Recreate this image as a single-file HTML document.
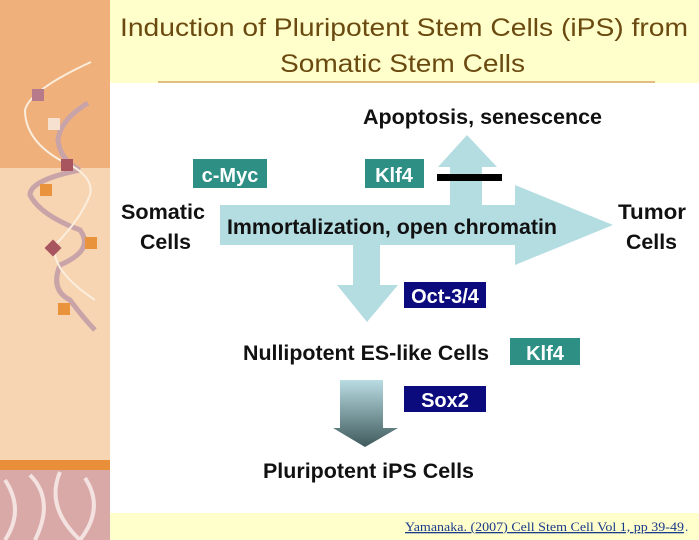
<!DOCTYPE html>
<html><head><style>
html,body{margin:0;padding:0;width:699px;height:540px;overflow:hidden;background:#fff}
</style></head><body>
<svg width="699" height="540" viewBox="0 0 699 540" xmlns="http://www.w3.org/2000/svg" style="display:block">
<defs>
<linearGradient id="g" x1="0" y1="0" x2="0" y2="1">
<stop offset="0" stop-color="#b9dde3"/><stop offset="1" stop-color="#3f5a5c"/></linearGradient>
</defs>
<rect x="110" y="0" width="589" height="83" fill="#ffffcc"/>
<line x1="158" y1="82" x2="655" y2="82" stroke="#d9a86a" stroke-width="1.5"/>
<rect x="110" y="513" width="589" height="27" fill="#ffffcc"/>
<rect x="0" y="0" width="110" height="168" fill="#efb07c"/>
<rect x="0" y="168" width="110" height="292" fill="#f7d4b2"/>
<rect x="0" y="460" width="110" height="10" fill="#e98f3a"/>
<rect x="0" y="470" width="110" height="70" fill="#d9a9a8"/>
<path d="M5 480 q20 30 0 60 M30 475 q25 25 5 65 M60 472 q-15 35 20 68 M85 478 q20 30 -5 62" stroke="#f3e2e0" stroke-width="4" fill="none"/>
<path d="M88 103 Q60 120 58 140 Q60 160 80 170" stroke="#c8a3a8" stroke-width="5" fill="none"/>
<path d="M80 170 Q30 180 30 195 Q40 215 80 230 Q95 250 60 265 Q50 290 70 300 Q85 320 95 330" stroke="#c8a3a8" stroke-width="5" fill="none"/>
<path d="M91 62 Q30 90 25 110 Q25 140 60 160 Q95 175 90 195 Q80 220 55 245 Q50 270 95 300" stroke="#fbeedd" stroke-width="2" fill="none"/>
<rect x="32" y="89" width="12" height="12" fill="#b77a8a"/>
<rect x="48" y="118" width="12" height="12" fill="#f6e0d0"/>
<rect x="61" y="159" width="12" height="12" fill="#a95560"/>
<rect x="40" y="184" width="12" height="12" fill="#e9943d"/>
<rect x="85" y="237" width="12" height="12" fill="#e9943d"/>
<rect x="47" y="242" width="12" height="12" fill="#a95560" transform="rotate(45 53 248)"/>
<rect x="58" y="303" width="12" height="12" fill="#e9943d"/>
<g font-family="Liberation Sans, sans-serif">
<text x="120" y="36" font-size="25" fill="#6b4a10" textLength="568" lengthAdjust="spacingAndGlyphs">Induction of Pluripotent Stem Cells (iPS) from</text>
<text x="280" y="72" font-size="25" fill="#6b4a10" textLength="245" lengthAdjust="spacingAndGlyphs">Somatic Stem Cells</text>
<polygon fill="#b4dde2" points="220,205 450,205 450,167 438,167 467,135 497,167 482,167 482,205 515,205 515,185 613,225 515,265 515,245 380,245 380,285 398,285 367,322 337,285 353,285 353,245 220,245"/>
<rect x="437" y="174" width="65" height="7" fill="#000"/>
<polygon fill="url(#g)" points="340,380 383,380 383,428 398,428 365,447 333,428 340,428"/>
<g font-weight="bold" font-size="21" fill="#111" lengthAdjust="spacingAndGlyphs">
<text x="363" y="124" textLength="239" lengthAdjust="spacingAndGlyphs">Apoptosis, senescence</text>
<text x="121" y="219" textLength="84" lengthAdjust="spacingAndGlyphs">Somatic</text>
<text x="140" y="249" textLength="51" lengthAdjust="spacingAndGlyphs">Cells</text>
<text x="618" y="219" textLength="68" lengthAdjust="spacingAndGlyphs">Tumor</text>
<text x="626" y="249" textLength="51" lengthAdjust="spacingAndGlyphs">Cells</text>
<text x="227" y="234" textLength="330" lengthAdjust="spacingAndGlyphs">Immortalization, open chromatin</text>
<text x="243" y="360" textLength="246" lengthAdjust="spacingAndGlyphs">Nullipotent ES-like Cells</text>
<text x="263" y="478" textLength="211" lengthAdjust="spacingAndGlyphs">Pluripotent iPS Cells</text>
</g>
<rect x="193" y="159" width="74" height="29" fill="#2e8f85"/>
<rect x="365" y="159" width="59" height="29" fill="#2e8f85"/>
<rect x="510" y="338" width="70" height="27" fill="#2e8f85"/>
<rect x="404" y="282" width="82" height="26" fill="#0b0b7d"/>
<rect x="404" y="386" width="82" height="26" fill="#0b0b7d"/>
<g font-weight="bold" font-size="20" fill="#fff" text-anchor="middle">
<text x="230" y="182">c-Myc</text>
<text x="394" y="182">Klf4</text>
<text x="545" y="360">Klf4</text>
<text x="445" y="303">Oct-3/4</text>
<text x="445" y="407">Sox2</text>
</g>
</g>
<text x="405" y="531" font-family="Liberation Serif, serif" font-size="13" fill="#1a3a8a" text-decoration="underline" textLength="279" lengthAdjust="spacingAndGlyphs">Yamanaka. (2007) Cell Stem Cell Vol 1, pp 39-49</text><text x="685" y="531" font-family="Liberation Serif, serif" font-size="13" fill="#1a3a8a">.</text>
</svg>
</body></html>
